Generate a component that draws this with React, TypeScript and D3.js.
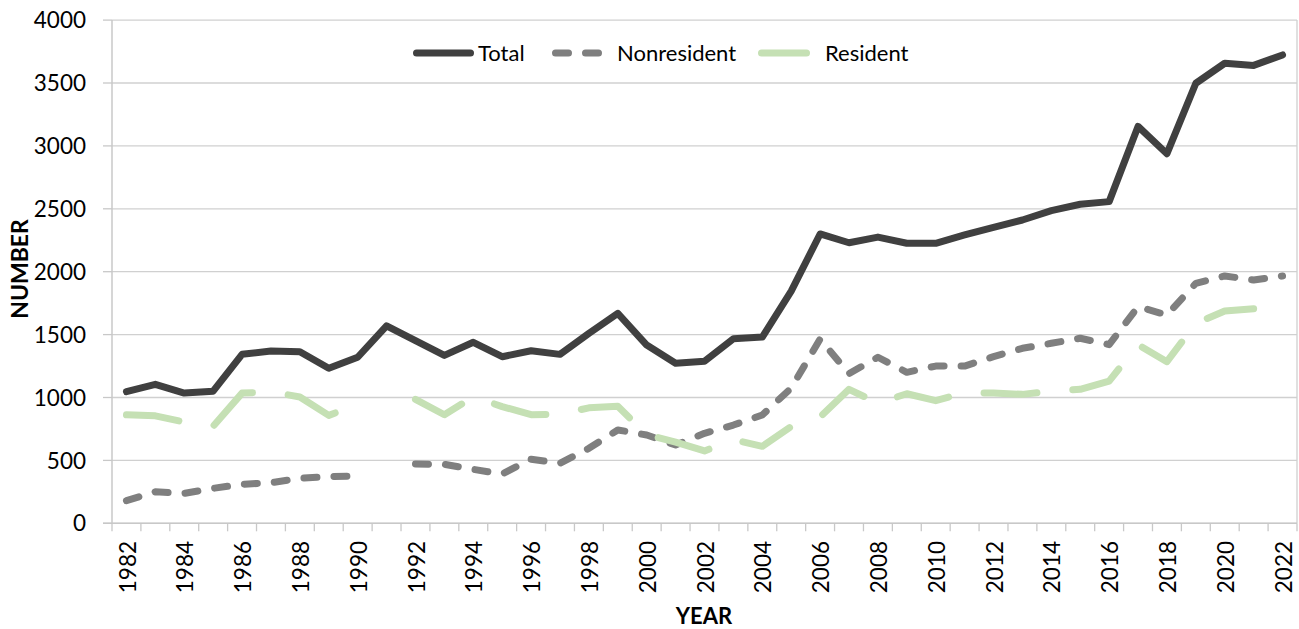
import React from 'react';
import * as d3 from 'd3';

const years: number[] = d3.range(1982, 2023);
const totalValues: (number | null)[] = [
  1046, 1105, 1035, 1050, 1343, 1370, 1364, 1232, 1320, 1570,
  1452, 1335, 1439, 1324, 1372, 1343, 1510, 1669, 1417, 1272,
  1288, 1467, 1480, 1845, 2300, 2230, 2275, 2226, 2226, 2292,
  2353, 2411, 2485, 2536, 2557, 3155, 2938, 3498, 3657, 3640, 3723,
];
const nonresidentValues: (number | null)[] = [
  180, 251, 238, 278, 310, 323, 358, 371, 376, null,
  471, 469, 429, 392, 509, 477, 596, 742, 702, 622,
  715, 781, 861, 1075, 1465, 1190, 1320, 1200, 1250, 1250,
  1325, 1391, 1431, 1471, 1420, 1722, 1656, 1908, 1966, 1934, 1966,
];
const residentValues: (number | null)[] = [
  862, 854, 805, 772, 1035, 1045, 1004, 858, 944, null,
  985, 863, 1005, 928, 863, 866, 918, 930, 705, 645,
  575, 665, 612, 770, 845, 1065, 955, 1030, 975, 1038,
  1035, 1025, 1050, 1065, 1130, 1420, 1285, 1590, 1688, 1705, null,
];
const yTicks: number[] = [0, 500, 1000, 1500, 2000, 2500, 3000, 3500, 4000];
const xTickLabels: number[] = years.filter((y) => (y - 1982) % 2 === 0);

const FONT = 'Lato, "Open Sans", sans-serif';

export default function App() {
  const left = 112;
  const right = 1297;
  const top = 20.1;
  const bottom = 523.3;

  const x = d3.scaleBand<number>().domain(years).range([left, right]).padding(0);
  const y = d3.scaleLinear().domain([0, 4000]).range([bottom, top]);
  const cx = (yr: number) => (x(yr) as number) + x.bandwidth() / 2;

  const mkLine = (vals: (number | null)[]) =>
    d3
      .line<number>()
      .defined((_, i) => vals[i] != null)
      .x((yr) => cx(yr))
      .y((_, i) => y(vals[i] as number))(years) as string;

  const series = [
    { name: 'Total', vals: totalValues, color: '#404040', dash: undefined as string | undefined },
    { name: 'Nonresident', vals: nonresidentValues, color: '#7f7f7f', dash: '13 17' },
    { name: 'Resident', vals: residentValues, color: '#c5e0b4', dash: '53 36' },
  ];

  const bandEdges = years.map((yr) => x(yr) as number).concat([right]);

  return (
    <div style={{ position: 'absolute', left: 0, top: 0 }}>
      <svg width={1299} height={629} style={{ display: 'block', background: '#fff' }}>
        {/* gridlines */}
        {yTicks.map((t) => (
          <line key={'g' + t} x1={left} x2={right} y1={y(t)} y2={y(t)} stroke="#d0d0d0" strokeWidth={1.3} />
        ))}
        {/* axes */}
        <line x1={left} x2={left} y1={top} y2={bottom + 0.5} stroke="#c8c8c8" strokeWidth={1.5} />
        <line x1={right} x2={right} y1={top} y2={bottom} stroke="#d0d0d0" strokeWidth={1.3} />
        <line x1={left - 9} x2={right} y1={bottom} y2={bottom} stroke="#c8c8c8" strokeWidth={1.5} />
        {yTicks.map((t) => (
          <line key={'yt' + t} x1={left - 9} x2={left} y1={y(t)} y2={y(t)} stroke="#c8c8c8" strokeWidth={1.3} />
        ))}
        {bandEdges.map((bx, i) => (
          <line key={'xt' + i} x1={bx} x2={bx} y1={bottom} y2={bottom + 8} stroke="#c8c8c8" strokeWidth={1.3} />
        ))}
        {/* y tick labels */}
        {yTicks.map((t) => (
          <text key={'yl' + t} x={86} y={y(t)} dy="0.36em" textAnchor="end" fontFamily={FONT} fontSize={22.5} fill="#000">
            {t}
          </text>
        ))}
        {/* x tick labels */}
        {xTickLabels.map((yr) => (
          <text
            key={'xl' + yr}
            transform={`translate(${cx(yr) + 1},${541}) rotate(-90)`}
            textAnchor="end"
            dy="0.36em"
            fontFamily={FONT}
            fontSize={22.5}
            fill="#000"
          >
            {yr}
          </text>
        ))}
        {/* axis titles */}
        <text x={704} y={624} textAnchor="middle" fontFamily={FONT} fontWeight="bold" fontSize={22} fill="#000">
          YEAR
        </text>
        <text
          transform={`translate(20,${269}) rotate(-90)`}
          textAnchor="middle"
          dy="0.36em"
          fontFamily={FONT}
          fontWeight="bold"
          fontSize={23}
          fill="#000"
        >
          NUMBER
        </text>
        {/* series */}
        {series.map((s) => (
          <path
            key={s.name}
            d={mkLine(s.vals)}
            fill="none"
            stroke={s.color}
            strokeWidth={7}
            strokeLinejoin="round"
            strokeLinecap="round"
            strokeDasharray={s.dash}
          />
        ))}
        {/* legend */}
        <g>
          <line x1={416.5} x2={470.5} y1={53} y2={53} stroke="#404040" strokeWidth={7} strokeLinecap="round" />
          <text x={478} y={53} dy="0.36em" fontFamily={FONT} fontSize={22} fill="#000">Total</text>
          <line x1={555.5} x2={612} y1={53} y2={53} stroke="#7f7f7f" strokeWidth={7} strokeLinecap="round" strokeDasharray="13 17" />
          <text x={617} y={53} dy="0.36em" fontFamily={FONT} fontSize={22} fill="#000">Nonresident</text>
          <line x1={761.5} x2={806.5} y1={53} y2={53} stroke="#c5e0b4" strokeWidth={7} strokeLinecap="round" />
          <text x={825} y={53} dy="0.36em" fontFamily={FONT} fontSize={22} fill="#000">Resident</text>
        </g>
      </svg>
    </div>
  );
}
